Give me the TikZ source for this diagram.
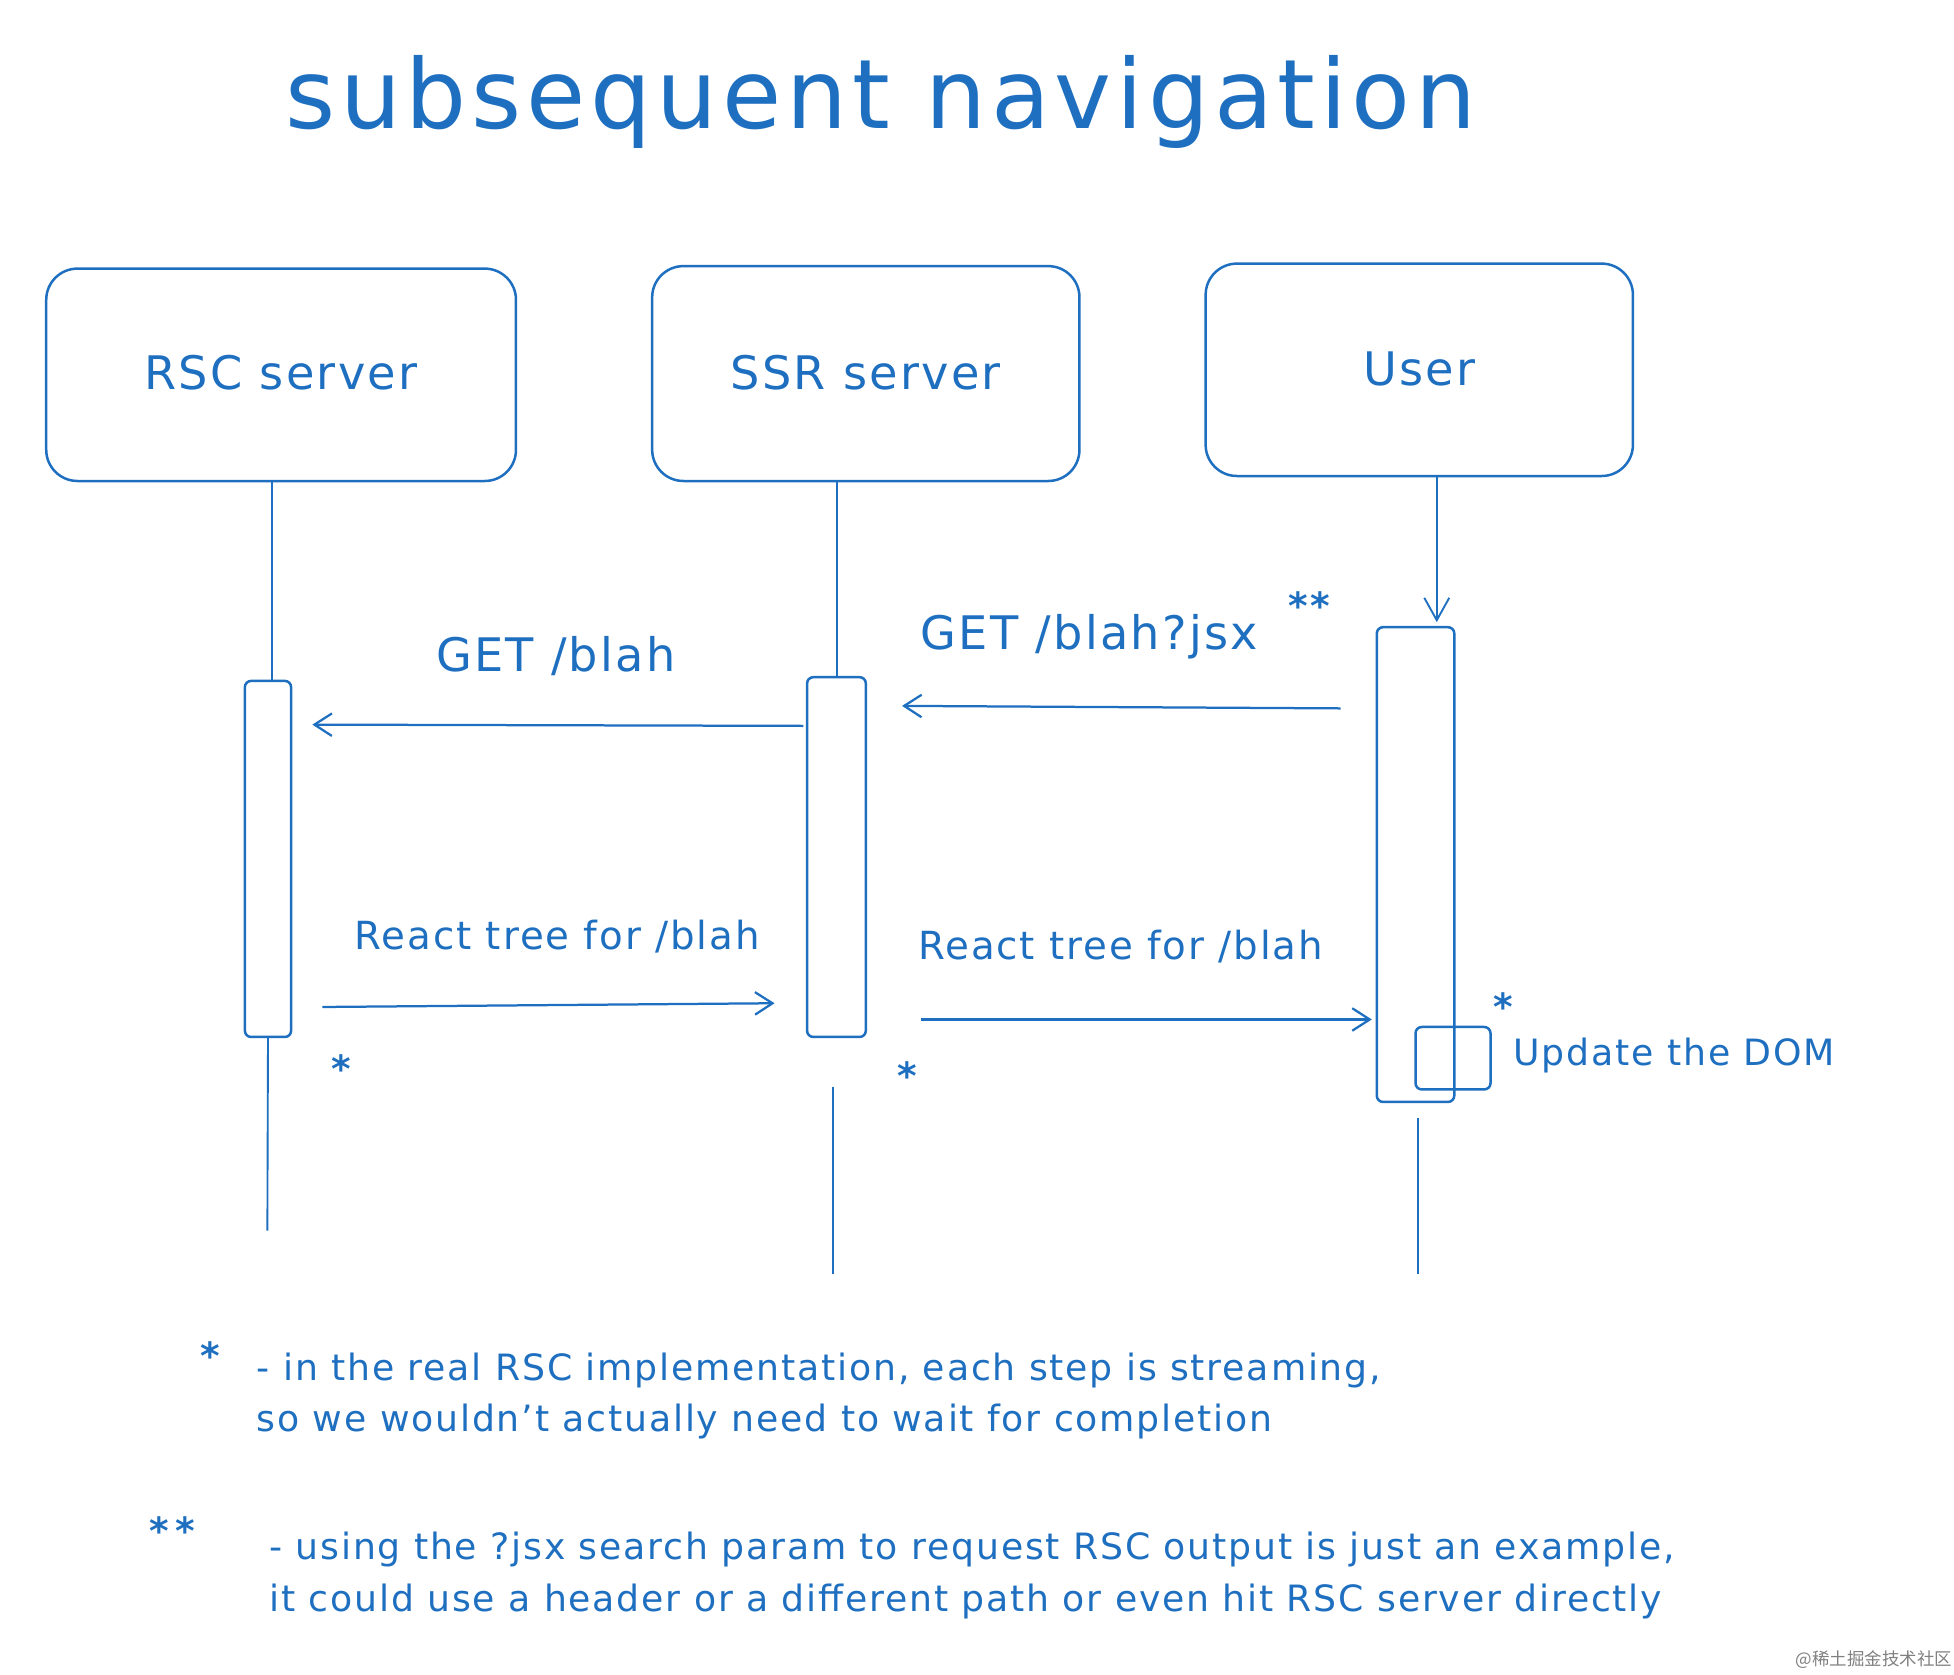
\documentclass[tikz,border=0pt]{standalone}
\usepackage{fontspec}
\setmainfont{DejaVu Sans}[LetterSpace=5]
\newfontfamily\cjk{Noto Sans CJK SC}
\usetikzlibrary{arrows.meta}
\definecolor{ink}{HTML}{1E6FC0}
\newcommand{\fs}[1]{\fontsize{#1}{#1}\selectfont}
\tikzset{
 x=1pt,y=-1pt,
 every node/.style={text=ink},
 actor/.style={draw=ink,line width=2pt,rounded corners=25pt},
 act/.style={draw=ink,line width=2pt,rounded corners=5pt},
 life/.style={draw=ink,line width=1.5pt},
 msg/.style={draw=ink,line width=1.8pt,-{Straight Barb[length=14pt,width=18pt,line width=1.8pt]}},
 lbl/.style={anchor=center},
 note/.style={font=\fs{29},anchor=west},
 star/.style={font=\bfseries\fs{30}},
}
\begin{document}
\begin{tikzpicture}
\useasboundingbox (0,0) rectangle (1564,1340);
\node[font=\fs{77}] (title) at (705,82) {subsequent navigation};
% actors
\draw[actor] (37,215) rectangle (413,385);
\node[font=\fs{37}] (rsc) at (225,298) {RSC server};
\draw[actor] (522,213) rectangle (864,385);
\node[font=\fs{37}] (ssr) at (693,298) {SSR server};
\draw[actor] (965,211) rectangle (1307,381);
\node[font=\fs{37}] (user) at (1136,295) {User};
% activation boxes
\node[act,minimum width=37pt,minimum height=285pt] (a1) at (214.5,687.5) {};
\node[act,minimum width=47pt,minimum height=288pt] (a2) at (669.5,686) {};
\node[act,minimum width=62pt,minimum height=380pt] (a3) at (1133,692) {};
\node[act,minimum width=60pt,minimum height=50pt] (a4) at (1163,847) {};
% lifelines
\coordinate (r0) at (218,385);
\draw[life] (r0) -- (a1.north -| r0);
\draw[life] (a1.south) -- (214,985);
\draw[life] (670,385) -- (a2.north -| 670,0);
\draw[life] (667,870) -- (667,1020);
\draw[life,-{Straight Barb[length=18pt,width=20pt,line width=1.5pt]}] (1150,381) -- (1150,498);
\draw[life] (1135,895) -- (1135,1020);
% messages
\coordinate (m1s) at (643,581); \coordinate (m1e) at (250,580);
\draw[msg] (m1s) -- (m1e);
\node[lbl,font=\fs{37}] (l1) at (445,525) {GET /blah};
\coordinate (m2s) at (1073,567); \coordinate (m2e) at (722,565);
\draw[msg] (m2s) -- (m2e);
\node[lbl,font=\fs{37}] (l2) at (872,510) {GET /blah?jsx};
\node[star] (s2) at (1048,485) {**};
\coordinate (m3s) at (258,806); \coordinate (m3e) at (620,803);
\draw[msg] (m3s) -- (m3e);
\node[lbl,font=\fs{31}] (l3) at (446,750) {React tree for /blah};
\node[star] (s3) at (273,855) {*};
\coordinate (m4s) at (737,816); \coordinate (m4e) at (1098,816);
\draw[msg] (m4s) -- (m4e);
\node[lbl,font=\fs{31}] (l4) at (897,758) {React tree for /blah};
\node[star] (s4) at (726,861) {*};
\node[star] (s5) at (1203,806) {*};
\node[anchor=west,font=\fs{29}] (dom) at (1208,845) {Update the DOM};
% notes
\node[star] (f1) at (168,1085) {*};
\node[note] (n1) at (202,1097) {- in the real RSC implementation, each step is streaming,};
\node[note] (n2) at (202,1138) {so we wouldn't actually need to wait for completion};
\node[star] (f2) at (138,1225) {*\,*};
\node[note] (n3) at (212,1240) {- using the ?jsx search param to request RSC output is just an example,};
\node[note] (n4) at (212,1282) {it could use a header or a different path or even hit RSC server directly};
\node[font=\cjk\fs{14},text=gray] (wm) at (1500,1328) {@稀土掘金技术社区};
\end{tikzpicture}
\end{document}
